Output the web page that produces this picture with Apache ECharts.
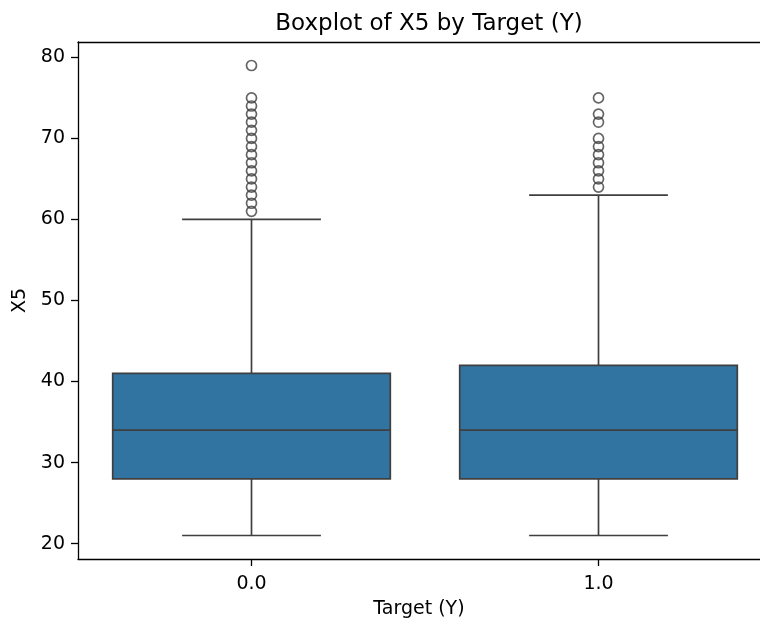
<!DOCTYPE html>
<html>
<head>
<meta charset="utf-8">
<script src="https://cdn.jsdelivr.net/npm/echarts@6/dist/echarts.min.js"></script>
<style>
  html, body { margin: 0; padding: 0; background: #fff; }
  #chart { width: 760px; height: 620px; }
</style>
</head>
<body>
<div id="chart"></div>
<script>
  // values
  const categories = ['0.0', '1.0']
  const whiskerLow = [21, 21]
  const q1 = [28, 28]
  const median = [34, 34]
  const q3 = [41, 42]
  const whiskerHigh = [60, 63]
  const fliers0 = [61, 62, 63, 64, 65, 66, 67, 68, 69, 70, 71, 72, 73, 74, 75, 79]
  const fliers1 = [64, 65, 66, 67, 68, 69, 70, 72, 73, 75]
  const yTicks = [20, 30, 40, 50, 60, 70, 80]

  const boxColor = '#3274a1'
  const lineColor = '#3f3f3f'
  const font = 'DejaVu Sans'

  // the original figure is cut off on the right, so the x range ends before 1.5
  const xMin = -0.5
  const xMax = 1.4654

  const boxData = categories.map((c, i) => [i, whiskerLow[i], q1[i], median[i], q3[i], whiskerHigh[i]])
  const flierData = []
  fliers0.forEach(v => flierData.push([0, v]))
  fliers1.forEach(v => flierData.push([1, v]))

  function renderBox(params, api) {
    const idx = api.value(0)
    const band = api.size([1, 0])[0]
    const lo = api.coord([idx, api.value(1)])
    const b1 = api.coord([idx, api.value(2)])
    const md = api.coord([idx, api.value(3)])
    const b3 = api.coord([idx, api.value(4)])
    const hi = api.coord([idx, api.value(5)])
    const x = lo[0]
    const hw = band * 0.4
    const cw = band * 0.2
    const ls = { stroke: lineColor, lineWidth: 1.7 }
    return {
      type: 'group',
      children: [
        { type: 'line', shape: { x1: x, y1: b1[1], x2: x, y2: lo[1] }, style: ls },
        { type: 'line', shape: { x1: x, y1: b3[1], x2: x, y2: hi[1] }, style: ls },
        { type: 'line', shape: { x1: x - cw, y1: lo[1], x2: x + cw, y2: lo[1] }, style: ls },
        { type: 'line', shape: { x1: x - cw, y1: hi[1], x2: x + cw, y2: hi[1] }, style: ls },
        { type: 'rect', shape: { x: x - hw, y: b3[1], width: hw * 2, height: b1[1] - b3[1] },
          style: { fill: boxColor, stroke: lineColor, lineWidth: 1.7 } },
        { type: 'line', shape: { x1: x - hw, y1: md[1], x2: x + hw, y2: md[1] }, style: ls }
      ]
    }
  }

  const axisText = { fontFamily: font, fontSize: 19, color: '#000' }

  const chart = echarts.init(document.getElementById('chart'))
  chart.setOption({
    animation: false,
    backgroundColor: '#fff',
    title: {
      text: 'Boxplot of X5 by Target (Y)',
      left: 424,
      top: 8,
      textAlign: 'center',
      textStyle: { fontFamily: font, fontSize: 23, fontWeight: 'normal', color: '#000' }
    },
    grid: {
      left: 78,
      top: 42,
      width: 682,
      height: 517,
      outerBoundsMode: 'none'
    },
    xAxis: [
      {
        type: 'value',
        min: xMin,
        max: xMax,
        name: 'Target (Y)',
        nameLocation: 'middle',
        nameGap: 41,
        nameTextStyle: axisText,
        axisLine: { onZero: false, lineStyle: { color: '#000', width: 1.3 } },
        axisTick: { length: 7, customValues: [0, 1], lineStyle: { color: '#000', width: 1.3 } },
        axisLabel: Object.assign({ margin: 16, customValues: [0, 1], formatter: v => categories[v] }, axisText),
        splitLine: { show: false }
      },
      {
        // top spine
        type: 'value',
        position: 'top',
        min: xMin,
        max: xMax,
        axisLine: { onZero: false, lineStyle: { color: '#000', width: 1.3 } },
        axisTick: { show: false },
        axisLabel: { show: false },
        splitLine: { show: false }
      }
    ],
    yAxis: {
      type: 'value',
      min: 18.1,
      max: 81.9,
      name: 'X5',
      nameLocation: 'middle',
      nameGap: 44,
      nameRotate: 90,
      nameTextStyle: axisText,
      axisLine: { show: true, onZero: false, lineStyle: { color: '#000', width: 1.3 } },
      axisTick: { show: true, length: 7, customValues: yTicks, lineStyle: { color: '#000', width: 1.3 } },
      axisLabel: Object.assign({ margin: 13, customValues: yTicks }, axisText),
      splitLine: { show: false }
    },
    series: [
      {
        type: 'custom',
        renderItem: renderBox,
        data: boxData,
        encode: { x: 0, y: [1, 2, 3, 4, 5] },
        z: 2
      },
      {
        type: 'scatter',
        data: flierData,
        symbol: 'circle',
        symbolSize: 10,
        itemStyle: { color: 'rgba(0,0,0,0)', borderColor: lineColor, borderWidth: 1.7 },
        z: 3
      }
    ]
  })
</script>
</body>
</html>
